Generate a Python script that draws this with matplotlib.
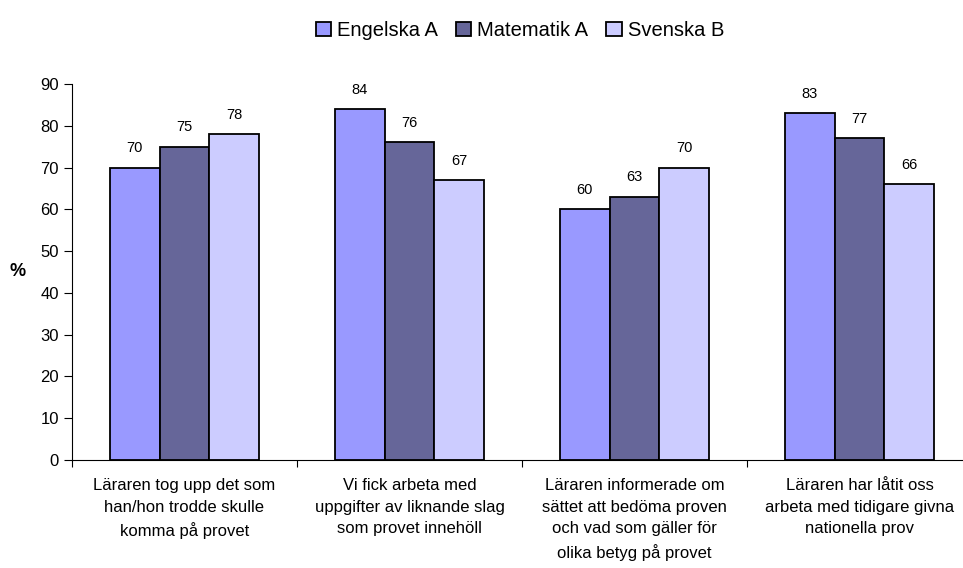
import numpy as np
import matplotlib.pyplot as plt

plt.rcParams['font.family'] = ['Liberation Sans', 'DejaVu Sans']

categories = [
    "Läraren tog upp det som\nhan/hon trodde skulle\nkomma på provet",
    "Vi fick arbeta med\nuppgifter av liknande slag\nsom provet innehöll",
    "Läraren informerade om\nsättet att bedöma proven\noch vad som gäller för\nolika betyg på provet",
    "Läraren har låtit oss\narbeta med tidigare givna\nnationella prov",
]
series = ["Engelska A", "Matematik A", "Svenska B"]
engelska = [70, 84, 60, 83]
matematik = [75, 76, 63, 77]
svenska = [78, 67, 70, 66]
colors = ["#9999FF", "#666699", "#CCCCFF"]

fig = plt.figure(figsize=(9.63, 5.68), dpi=100)
ax = fig.add_axes([72 / 963, 1 - 460 / 568, 900 / 963, 376 / 568])

x = np.arange(len(categories))
w = 0.222
for i, (name, vals) in enumerate(zip(series, [engelska, matematik, svenska])):
    pos = x + (i - 1) * w
    bars = ax.bar(pos, vals, w, color=colors[i], edgecolor="black",
                  linewidth=1.3, label=name)
    for b, v in zip(bars, vals):
        ax.text(b.get_x() + b.get_width() / 2, v + 3, str(v),
                ha="center", va="bottom", fontsize=10.5)

ax.set_xlim(-0.5, len(categories) - 0.5)
ax.set_ylim(0, 90)
ax.set_yticks(range(0, 91, 10))
ax.tick_params(axis="y", direction="out", length=6, labelsize=12, width=0.8)
ax.set_xticks(np.arange(-0.5, len(categories), 1))
ax.set_xticklabels([])
ax.tick_params(axis="x", direction="out", length=5, width=0.8)
for xi, lab in zip(x, categories):
    ax.text(xi, -4.3, lab, ha="center", va="top", fontsize=12,
            linespacing=1.55)

ax.spines["top"].set_visible(False)
ax.spines["right"].set_visible(False)
ax.set_ylabel("%", fontsize=13, fontweight="bold", rotation=0, labelpad=16,
              va="center")

fig.legend(loc="upper center", bbox_to_anchor=(0.54, 0.995), ncol=3,
           frameon=False, fontsize=14.5, handlelength=0.75, handleheight=0.75,
           handletextpad=0.3, columnspacing=0.9)

fig.savefig("out.png", dpi=100)
